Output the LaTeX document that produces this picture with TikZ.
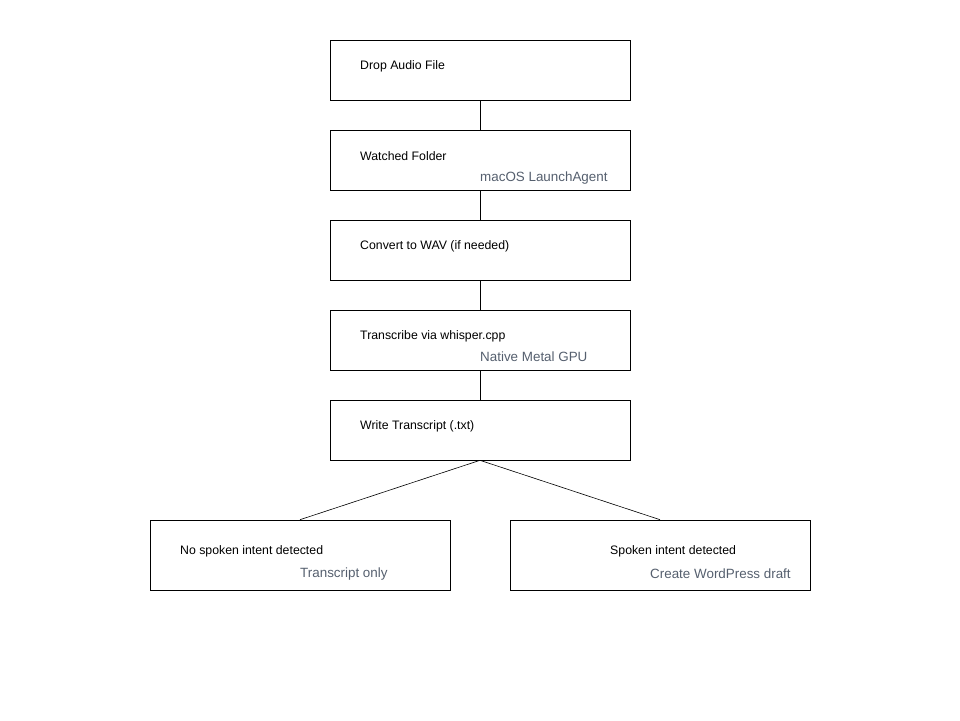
\documentclass[tikz,border=0pt]{standalone}
\usepackage{fontspec}
\setmainfont{Liberation Sans}
\definecolor{subgray}{RGB}{85,95,110}
\begin{document}
\begin{tikzpicture}[x=1pt,y=-1pt,
	stepbox/.style={
		rectangle,
		draw=black,
		semithick,
		minimum height=60pt,
		minimum width=300pt
	},
	leafbox/.style={
		rectangle,
		draw=black,
		semithick,
		minimum height=70pt,
		minimum width=300pt
	},
	title/.style={anchor=west, inner sep=0pt, font=\fontsize{12.3}{14}\selectfont},
	sub/.style={anchor=west, inner sep=0pt, text=subgray, font=\fontsize{13.4}{15}\selectfont},
]
\useasboundingbox (0,0) rectangle (960,720);

\node[stepbox] (drop) at (480,70) {};
\node[stepbox] (watch) at (480,160) {};
\node[stepbox] (conv) at (480,250) {};
\node[stepbox] (trans) at (480,340) {};
\node[stepbox] (write) at (480,430) {};

\node[leafbox] (noint) at (300,555) {};
\node[leafbox] (yesint) at (660,555) {};

\node[title] (tdrop) at (360,66) {Drop Audio File};
\node[title] (twatch) at (360,156) {Watched Folder};
\node[sub] (swatch) at (480,178) {macOS LaunchAgent};
\node[title] (tconv) at (360,246) {Convert to WAV (if needed)};
\node[title] (ttrans) at (360,336) {Transcribe via whisper.cpp};
\node[sub] (strans) at (480,357) {Native Metal GPU};
\node[title] (twrite) at (360,426) {Write Transcript (.txt)};

\node[title] (tnoint) at (180,551) {No spoken intent detected};
\node[sub] (snoint) at (300,574) {Transcript only};
\node[title] (tyesint) at (610,551) {Spoken intent detected};
\node[sub] (syesint) at (650,574) {Create WordPress draft};

\draw[semithick] (drop.south) -- (watch.north);
\draw[semithick] (watch.south) -- (conv.north);
\draw[semithick] (conv.south) -- (trans.north);
\draw[semithick] (trans.south) -- (write.north);

\draw[semithick] (write.south) -- (noint.north);
\draw[semithick] (write.south) -- (yesint.north);

\end{tikzpicture}
\end{document}
